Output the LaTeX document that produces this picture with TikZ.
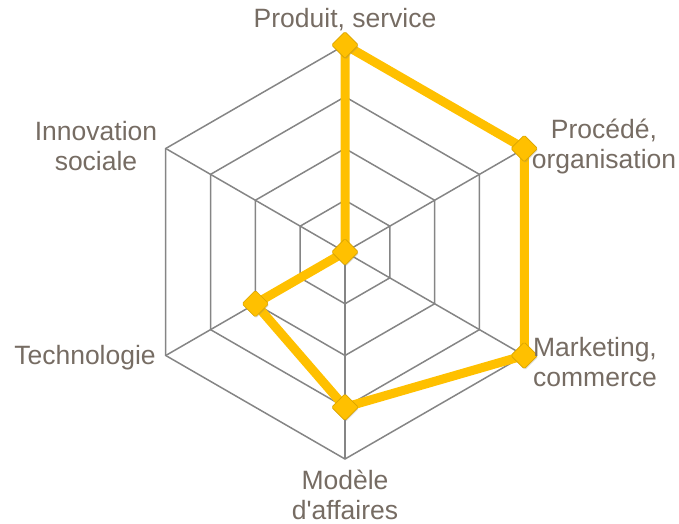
\documentclass[tikz,border=0pt]{standalone}
\usepackage{fontspec}
\setmainfont{Liberation Sans}
\usetikzlibrary{shapes.geometric,shadows}
\definecolor{gold}{HTML}{FFC000}
\definecolor{golddark}{HTML}{D9A400}
\definecolor{gridgray}{HTML}{858585}
\definecolor{labeltxt}{RGB}{118,108,99}
\pgfdeclarelayer{gridlayer}
\pgfdeclarelayer{linelayer}
\pgfsetlayers{gridlayer,linelayer,main}
\tikzset{
  gridline/.style={draw=gridgray, line width=1.5pt},
  dataline/.style={draw=gold, line width=9pt, line join=miter},
  marker/.style={diamond, fill=gold, draw=golddark, line width=0.6pt, minimum width=27pt, minimum height=27pt, inner sep=0pt, rounded corners=1.5pt,
     drop shadow={opacity=0.25, shadow xshift=0.8pt, shadow yshift=-1.2pt}},
  axislabel/.style={text=labeltxt, align=center, font=\fontsize{26.5}{30}\selectfont, inner sep=0pt}
}
\begin{document}
\begin{tikzpicture}[x=1pt,y=1pt]
\useasboundingbox (0,0) rectangle (679,523);
\begin{scope}[shift={(345,271)}]
  \coordinate (O) at (0,0);
  \begin{pgfonlayer}{gridlayer}
    \foreach \r in {51.75,103.5,155.25,207} {
      \draw[gridline] (90:\r) -- (30:\r) -- (-30:\r) -- (-90:\r) -- (-150:\r) -- (150:\r) -- cycle;
    }
    \foreach \a in {90,30,-30,-90,-150,150} {
      \draw[gridline] (O) -- (\a:207);
    }
  \end{pgfonlayer}
  \node[marker] (m1) at (90:207) {};
  \node[marker] (m2) at (30:207) {};
  \node[marker] (m3) at (-30:207) {};
  \node[marker] (m4) at (-90:155.25) {};
  \node[marker] (m5) at (-150:103.5) {};
  \node[marker] (m6) at (O) {};
  \begin{pgfonlayer}{linelayer}
    \draw[dataline] (m1.center) -- (m2.center) -- (m3.center) -- (m4.center) -- (m5.center) -- (m6.center) -- cycle;
  \end{pgfonlayer}
\end{scope}
\node[axislabel] (l1) at (345,503) {Produit, service};
\node[axislabel] (l2) at (604,377) {Procédé,\\organisation};
\node[axislabel] (l3) at (595,161) {Marketing,\\commerce};
\node[axislabel] (l4) at (345,28) {Modèle\\d\textquotesingle affaires};
\node[axislabel] (l5) at (96,377) {Innovation\\sociale};
\node[axislabel] (l6) at (85,165) {Technologie};
\end{tikzpicture}
\end{document}
